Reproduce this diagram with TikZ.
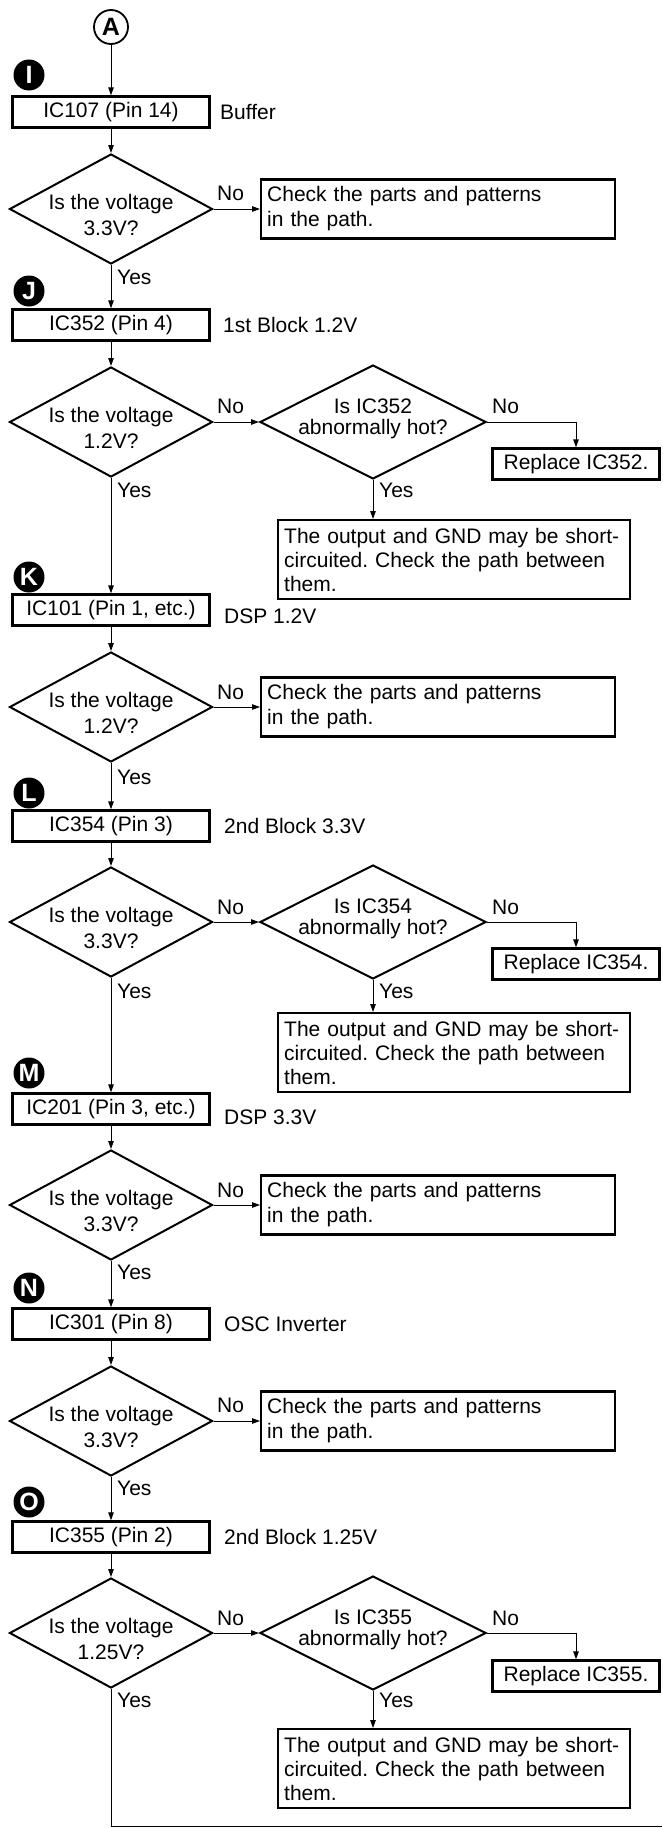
\documentclass[tikz,border=0pt]{standalone}
\usepackage{fontspec}
\setmainfont{Liberation Sans}
\frenchspacing
\usetikzlibrary{shapes.geometric,arrows.meta}
\tikzset{
 every node/.style={font=\fontsize{21}{25}\selectfont},
 icbox/.style={draw, line width=2.4pt, minimum width=197pt, minimum height=31pt, inner sep=0pt},
 chkbox/.style={draw, line width=2.4pt, anchor=west, text width=342pt, minimum height=59pt, inner xsep=6pt, inner ysep=0pt, align=left},
 outbox/.style={draw, line width=2.4pt, anchor=north west, text width=340pt, minimum height=79pt, inner xsep=6pt, inner ysep=0pt, align=left, font=\fontsize{21}{24}\selectfont},
 repbox/.style={draw, line width=2.4pt, minimum width=167pt, minimum height=31pt, inner sep=0pt},
 vdia/.style={draw, diamond, line width=2pt, minimum width=203pt, minimum height=110pt, inner sep=0pt},
 hdia/.style={draw, diamond, line width=2pt, minimum width=226pt, minimum height=114pt, inner sep=0pt},
 vtext/.style={align=center, font=\fontsize{21}{26}\selectfont, inner sep=0pt},
 htext/.style={align=center, font=\fontsize{21}{21}\selectfont, inner sep=0pt},
 badge/.style={circle, fill=black, minimum size=31pt, inner sep=0pt, text=white, font=\fontsize{25}{25}\selectfont\bfseries},
 startc/.style={circle, draw, line width=1.8pt, minimum size=34pt, inner sep=0pt, font=\fontsize{25}{25}\selectfont\bfseries},
 lbl/.style={anchor=west, inner sep=0pt},
 conn/.style={line width=1pt, -{Triangle[length=8pt,width=5.5pt]}},
 plainline/.style={line width=1pt},
}
\begin{document}
\begin{tikzpicture}[x=1pt,y=-1pt]
\useasboundingbox (0,0) rectangle (662,1828);

% start
\node[startc] (A) at (111,27) {A};

% ---- I ----
\node[badge] (bI) at (29,75) {I};
\node[icbox] (b1) at (111,112) {IC107 (Pin 14)};
\node[lbl] (l1) at (220,112) {Buffer};
\node[vdia] (d1) at (111,209) {};
\node[vtext] (t1) at (111,215) {Is the voltage\\3.3V?};
\node[chkbox] (c1) at (260,209) {Check the parts and patterns\\in the path.};
\node[lbl] (n1) at (217,193) {No};
\node[lbl] (y1) at (117,277) {Yes};
\draw[conn] (A) -- (b1);
\draw[conn] (b1) -- (d1);
\draw[conn] (d1.east) -- (c1.west);

% ---- J ----
\node[badge] (bJ) at (29,291) {J};
\node[icbox] (b2) at (111,325) {IC352 (Pin 4)};
\node[lbl] (l2) at (223,325) {1st Block 1.2V};
\node[vdia] (d2) at (111,422) {};
\node[vtext] (t2) at (111,428) {Is the voltage\\1.2V?};
\node[hdia] (d3) at (373,422) {};
\node[htext] (t3) at (373,418.5) {Is IC352\\abnormally hot?};
\node[repbox] (r1) at (576,464) {Replace IC352.};
\node[outbox] (o1) at (277,519) {The output and GND may be short-\\circuited. Check the path between\\them.};
\node[lbl] (n2) at (217,406) {No};
\node[lbl] (n3) at (492,406) {No};
\node[lbl] (y2) at (117,490) {Yes};
\node[lbl] (y3) at (379,490) {Yes};
\draw[conn] (d1) -- (b2);
\draw[conn] (b2) -- (d2);
\draw[conn] (d2.east) -- (d3.west);
\draw[conn] (d3.east) -| (r1.north);
\draw[conn] (d3.south) -- (d3.south |- o1.north);

% ---- K ----
\node[badge] (bK) at (29,577) {K};
\node[icbox] (b3) at (111,610) {IC101 (Pin 1, etc.)};
\node[lbl] (l3) at (224,616) {DSP 1.2V};
\node[vdia] (d4) at (111,707) {};
\node[vtext] (t4) at (111,713) {Is the voltage\\1.2V?};
\node[chkbox] (c2) at (260,707) {Check the parts and patterns\\in the path.};
\node[lbl] (n4) at (217,692) {No};
\node[lbl] (y4) at (117,777) {Yes};
\draw[conn] (d2) -- (b3);
\draw[conn] (b3) -- (d4);
\draw[conn] (d4.east) -- (c2.west);

% ---- L ----
\node[badge] (bL) at (29,793) {L};
\node[icbox] (b4) at (111,826) {IC354 (Pin 3)};
\node[lbl] (l4) at (224,826) {2nd Block 3.3V};
\node[vdia] (d5) at (111,922) {};
\node[vtext] (t5) at (111,928) {Is the voltage\\3.3V?};
\node[hdia] (d6) at (373,922) {};
\node[htext] (t6) at (373,918.5) {Is IC354\\abnormally hot?};
\node[repbox] (r2) at (576,964) {Replace IC354.};
\node[outbox] (o2) at (277,1012) {The output and GND may be short-\\circuited. Check the path between\\them.};
\node[lbl] (n5) at (217,907) {No};
\node[lbl] (n6) at (492,907) {No};
\node[lbl] (y5) at (117,991) {Yes};
\node[lbl] (y6) at (379,991) {Yes};
\draw[conn] (d4) -- (b4);
\draw[conn] (b4) -- (d5);
\draw[conn] (d5.east) -- (d6.west);
\draw[conn] (d6.east) -| (r2.north);
\draw[conn] (d6.south) -- (d6.south |- o2.north);

% ---- M ----
\node[badge] (bM) at (29,1073) {M};
\node[icbox] (b5) at (111,1109) {IC201 (Pin 3, etc.)};
\node[lbl] (l5) at (224,1117) {DSP 3.3V};
\node[vdia] (d7) at (111,1205) {};
\node[vtext] (t7) at (111,1211) {Is the voltage\\3.3V?};
\node[chkbox] (c3) at (260,1205) {Check the parts and patterns\\in the path.};
\node[lbl] (n7) at (217,1190) {No};
\node[lbl] (y7) at (117,1272) {Yes};
\draw[conn] (d5) -- (b5);
\draw[conn] (b5) -- (d7);
\draw[conn] (d7.east) -- (c3.west);

% ---- N ----
\node[badge] (bN) at (29,1288) {N};
\node[icbox] (b6) at (111,1324) {IC301 (Pin 8)};
\node[lbl] (l6) at (224,1324) {OSC Inverter};
\node[vdia] (d8) at (111,1421) {};
\node[vtext] (t8) at (111,1427) {Is the voltage\\3.3V?};
\node[chkbox] (c4) at (260,1421) {Check the parts and patterns\\in the path.};
\node[lbl] (n8) at (217,1405) {No};
\node[lbl] (y8) at (117,1488) {Yes};
\draw[conn] (d7) -- (b6);
\draw[conn] (b6) -- (d8);
\draw[conn] (d8.east) -- (c4.west);

% ---- O ----
\node[badge] (bO) at (29,1502) {O};
\node[icbox] (b7) at (111,1537) {IC355 (Pin 2)};
\node[lbl] (l7) at (224,1537) {2nd Block 1.25V};
\node[vdia] (d9) at (111,1633) {};
\node[vtext] (t9) at (111,1639) {Is the voltage\\1.25V?};
\node[hdia] (d10) at (373,1633) {};
\node[htext] (t10) at (373,1629.5) {Is IC355\\abnormally hot?};
\node[repbox] (r3) at (576,1676) {Replace IC355.};
\node[outbox] (o3) at (277,1728) {The output and GND may be short-\\circuited. Check the path between\\them.};
\node[lbl] (n9) at (217,1618) {No};
\node[lbl] (n10) at (492,1618) {No};
\node[lbl] (y9) at (117,1700) {Yes};
\node[lbl] (y10) at (379,1700) {Yes};
\draw[conn] (d8) -- (b7);
\draw[conn] (b7) -- (d9);
\draw[conn] (d9.east) -- (d10.west);
\draw[conn] (d10.east) -| (r3.north);
\draw[conn] (d10.south) -- (d10.south |- o3.north);
\coordinate (endc) at (662,1826);
\draw[plainline] (d9.south) |- (endc);
\end{tikzpicture}
\end{document}
